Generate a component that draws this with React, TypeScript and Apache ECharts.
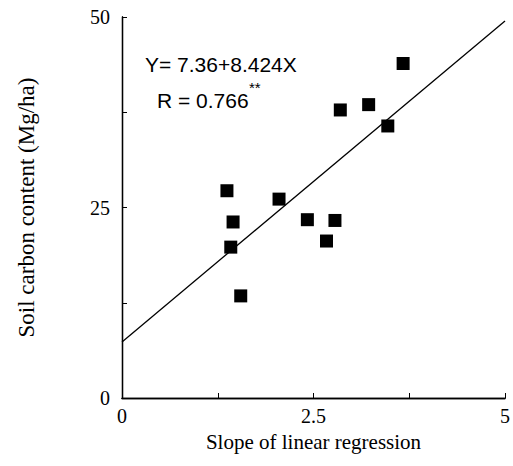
import React, { useEffect, useRef } from "react";
import * as echarts from "echarts";

const slopeX = [1.37, 1.45, 1.42, 1.55, 2.05, 2.42, 2.78, 2.67, 2.85, 3.22, 3.47, 3.67];
const carbonY = [27.2, 23.1, 19.8, 13.4, 26.1, 23.4, 23.3, 20.6, 37.8, 38.5, 35.7, 43.9];
const fitX = [0, 5];
const fitY = [7.36, 49.48];
const xTickLabels = ["0", "2.5", "5"];
const yTickLabels = ["0", "25", "50"];
const equationText = "Y= 7.36+8.424X";
const rText = "R = 0.766";
const sigText = "**";

export default function App() {
  const ref = useRef<HTMLDivElement>(null);
  useEffect(() => {
    if (!ref.current) return;
    const chart = echarts.init(ref.current, null, { renderer: "svg" });
    const serif = "Liberation Serif";
    const frameAxis = {
      type: "value",
      axisLine: { show: true, lineStyle: { color: "#000", width: 1.3 } },
      axisTick: { show: false },
      axisLabel: { show: false },
      splitLine: { show: false },
    };
    chart.setOption({
      animation: false,
      backgroundColor: "#fff",
      grid: {
        left: 122,
        right: 8,
        top: 17,
        bottom: 68,
      },
      xAxis: [
        {
          type: "value",
          position: "bottom",
          min: 0,
          max: 5,
          interval: 1.25,
          name: "Slope of linear regression",
          nameLocation: "middle",
          nameGap: 33,
          nameTextStyle: { fontFamily: serif, fontSize: 21, color: "#000" },
          axisLine: { show: true, lineStyle: { color: "#000", width: 1.3 } },
          axisTick: { show: true, inside: true, length: 5, lineStyle: { color: "#000" } },
          splitLine: { show: false },
          axisLabel: {
            margin: 8,
            fontFamily: serif,
            fontSize: 20,
            color: "#000",
            formatter: (v: number) => {
              const s = String(v);
              return xTickLabels.includes(s) ? s : "";
            },
          },
        },
        { ...frameAxis, position: "top", min: 0, max: 5 },
      ],
      yAxis: [
        {
          type: "value",
          position: "left",
          min: 0,
          max: 50,
          interval: 12.5,
          name: "Soil carbon content (Mg/ha)",
          nameLocation: "middle",
          nameGap: 84,
          nameTextStyle: { fontFamily: serif, fontSize: 23, color: "#000" },
          axisLine: { show: true, lineStyle: { color: "#000", width: 1.3 } },
          axisTick: { show: true, inside: true, length: 5, lineStyle: { color: "#000" } },
          splitLine: { show: false },
          axisLabel: {
            margin: 12,
            fontFamily: serif,
            fontSize: 20,
            color: "#000",
            formatter: (v: number) => {
              const s = String(v);
              return yTickLabels.includes(s) ? s : "";
            },
          },
        },
        { ...frameAxis, position: "right", min: 0, max: 50 },
      ],
      series: [
        {
          type: "line",
          data: fitX.map((x, i) => [x, fitY[i]]),
          symbol: "none",
          lineStyle: { color: "#000", width: 1.3 },
          z: 2,
        },
        {
          type: "scatter",
          data: slopeX.map((x, i) => [x, carbonY[i]]),
          symbol: "rect",
          symbolSize: 13,
          itemStyle: { color: "#000", opacity: 1 },
          z: 3,
        },
      ],
      graphic: [
        {
          type: "text",
          left: 145,
          top: 54,
          style: { text: equationText, font: '21px "Liberation Sans"', fill: "#000" },
        },
        {
          type: "text",
          left: 157,
          top: 90,
          style: { text: rText, font: '21px "Liberation Sans"', fill: "#000" },
        },
        {
          type: "text",
          left: 249,
          top: 80,
          style: { text: sigText, font: '15px "Liberation Sans"', fill: "#000" },
        },
      ],
    });
    return () => chart.dispose();
  }, []);
  return (
    <div
      ref={ref}
      style={{ position: "fixed", left: 0, top: 0, width: 513, height: 466 }}
    />
  );
}
